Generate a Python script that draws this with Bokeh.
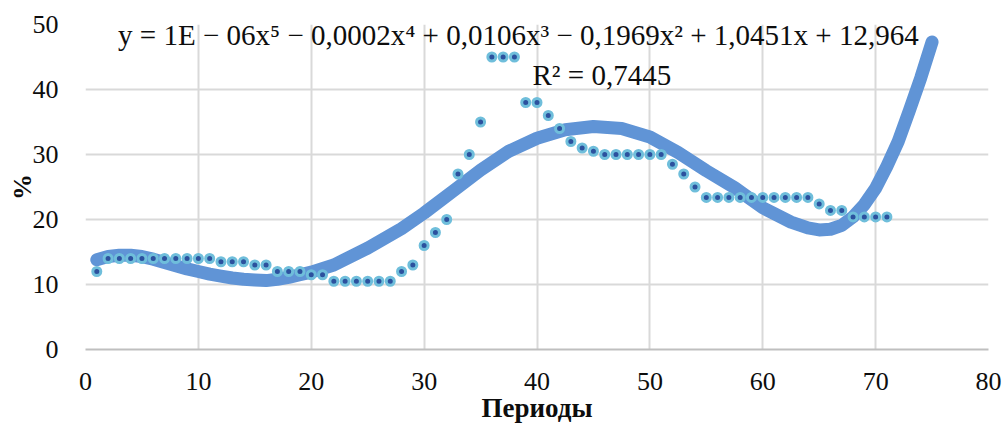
from bokeh.plotting import figure
from bokeh.models import Range1d, FixedTicker, Label
from bokeh.embed import file_html
from bokeh.resources import INLINE

# observed series (periods 1..71)
periods = list(range(1, 72))
values = [12,
          14, 14, 14, 14, 14, 14, 14, 14, 14, 14,
          13.5, 13.5, 13.5,
          13, 13,
          12, 12, 12,
          11.5, 11.5,
          10.5, 10.5, 10.5, 10.5, 10.5, 10.5,
          12, 13, 16, 18, 20, 27, 30, 35,
          45, 45, 45,
          38, 38, 36, 34, 32, 31, 30.5,
          30, 30, 30, 30, 30, 30,
          28.5, 27, 25,
          23.4, 23.4, 23.4, 23.4, 23.4, 23.4, 23.4, 23.4, 23.4, 23.4,
          22.4, 21.4, 21.4,
          20.4, 20.4, 20.4, 20.4]

# polynomial trend line
trend_x = [1, 2, 3, 4, 5, 6, 7, 8, 9, 10, 11, 12, 13, 14, 15, 16, 17, 18, 19, 20,
           22, 25, 28, 30, 32.5, 35, 37.5, 40, 42.5, 45, 47.5, 50, 52.5, 55,
           57.5, 60, 62.5, 64, 65, 66, 67, 68, 69, 70, 71, 72, 73, 74, 75]
trend_y = [13.8, 14.3, 14.5, 14.5, 14.3, 13.9, 13.4, 12.9, 12.4, 12.0, 11.6, 11.3,
           11.0, 10.8, 10.7, 10.6, 10.8, 11.1, 11.5, 11.9,
           13.0, 15.6, 18.6, 21.0, 24.3, 27.6, 30.5, 32.5, 33.8, 34.3, 34.0, 32.7,
           30.3, 27.5, 24.9, 21.8, 19.6, 18.7, 18.4, 18.5, 19.1, 20.4, 22.3, 24.8,
           28.2, 32.0, 36.8, 41.8, 47.3]

x_ticks = [0, 10, 20, 30, 40, 50, 60, 70, 80]
y_ticks = [0, 10, 20, 30, 40, 50]
equation = "y = 1E \u2212 06x\u2075 \u2212 0,0002x\u2074 + 0,0106x\u00b3 \u2212 0,1969x\u00b2 + 1,0451x + 12,964"
r2_text = "R\u00b2 = 0,7445"
x_title = "Периоды"
y_title = "%"

FONT = "Liberation Serif"

p = figure(width=1003, height=430, output_backend="svg", toolbar_location=None,
           x_range=Range1d(0, 80), y_range=Range1d(0, 50),
           min_border_left=85, min_border_right=15, min_border_top=24, min_border_bottom=81)
p.background_fill_color = "white"
p.border_fill_color = "white"
p.outline_line_color = None

p.xaxis.ticker = FixedTicker(ticks=x_ticks)
p.yaxis.ticker = FixedTicker(ticks=y_ticks)
p.xgrid.ticker = FixedTicker(ticks=x_ticks)
p.ygrid.ticker = FixedTicker(ticks=y_ticks)
p.grid.grid_line_color = "#d9d9d9"
p.grid.grid_line_width = 2

for ax in (p.xaxis, p.yaxis):
    ax.major_tick_line_color = None
    ax.minor_tick_line_color = None
    ax.major_label_text_font = FONT
    ax.major_label_text_font_size = "26px"
    ax.major_label_text_color = "#0d0d0d"
    ax.axis_label_text_font = FONT
    ax.axis_label_text_font_style = "bold"
    ax.axis_label_text_color = "#0d0d0d"
p.xaxis.axis_line_color = "#bfbfbf"
p.xaxis.axis_line_width = 2
p.yaxis.axis_line_color = None
p.xaxis.major_label_standoff = 17
p.yaxis.major_label_standoff = 21
p.xaxis.axis_label = x_title
p.xaxis.axis_label_text_font_size = "27px"
p.xaxis.axis_label_standoff = 0
p.yaxis.axis_label = y_title
p.yaxis.axis_label_text_font_size = "26px"
p.yaxis.axis_label_standoff = -7

p.line(trend_x, trend_y, line_color="#6094d6", line_width=13, line_cap="round", line_join="round")
p.scatter(periods, values, size=8, fill_color="#2c519e", line_color="#6fbedb", line_width=3)

p.add_layout(Label(x=38.35, y=48.4, text=equation, text_font=FONT, text_font_size="29px",
                   text_align="center", text_baseline="middle", text_color="#0d0d0d"))
p.add_layout(Label(x=39.6, y=42.2, text=r2_text, text_font=FONT, text_font_size="29px",
                   text_align="left", text_baseline="middle", text_color="#0d0d0d"))

open("out.html", "w").write(file_html(p, INLINE))
